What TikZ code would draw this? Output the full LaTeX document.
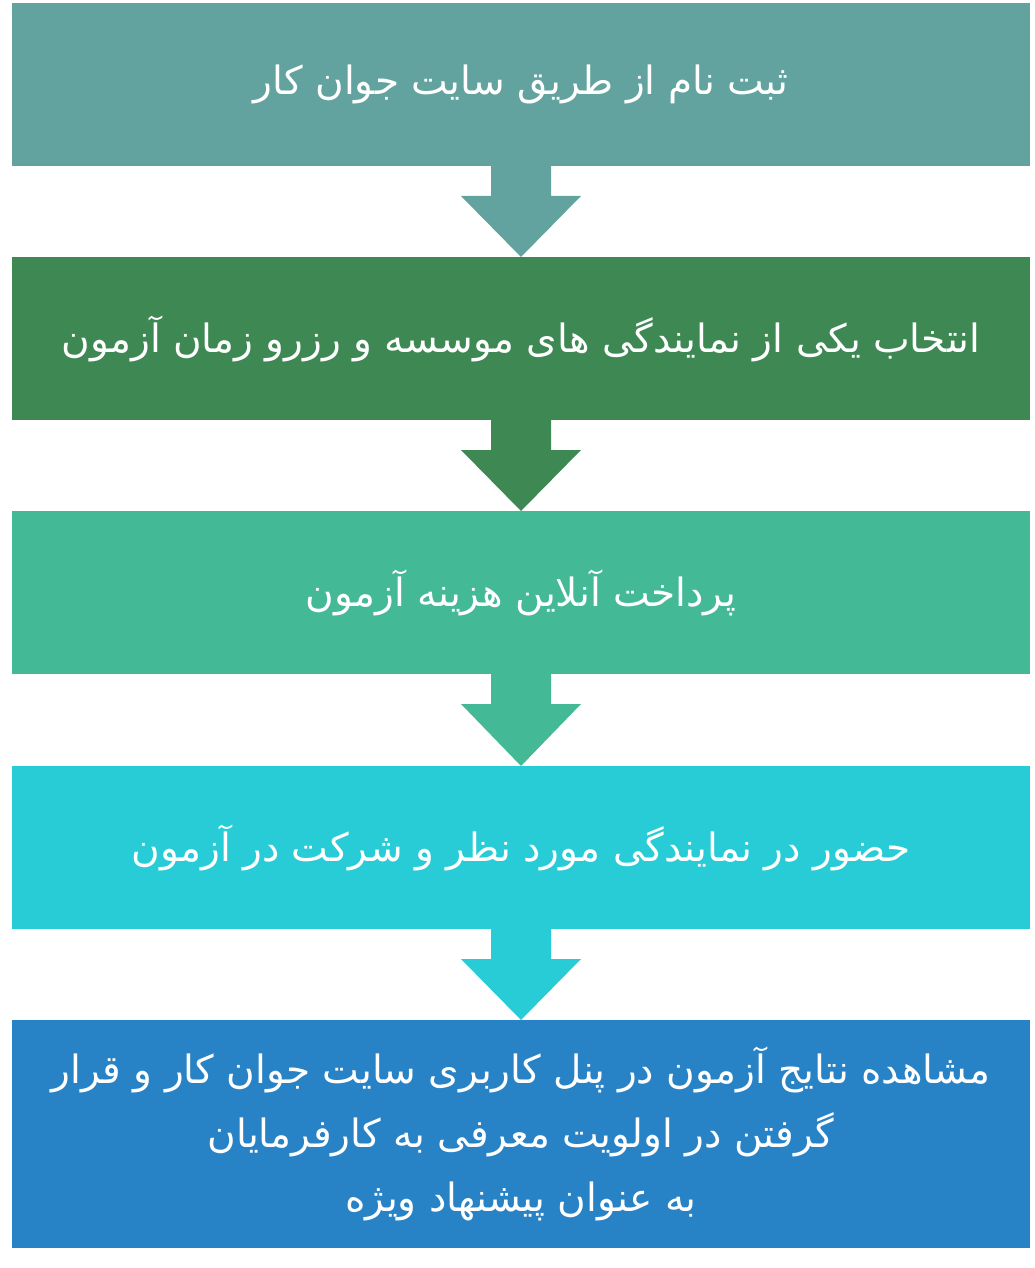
\documentclass[tikz,border=0pt]{standalone}
\usepackage{fontspec}
\TeXXeTstate=1
\newfontfamily\arabicfont[Script=Arabic]{DejaVu Sans}
\usetikzlibrary{calc}
\definecolor{cA}{HTML}{62A39F}
\definecolor{cB}{HTML}{3E8853}
\definecolor{cC}{HTML}{44B996}
\definecolor{cD}{HTML}{27CCD6}
\definecolor{cE}{HTML}{2882C6}
\tikzset{
  stepbox/.style={rectangle, inner sep=0pt, outer sep=0pt, minimum width=1018pt, text=white,
    font=\arabicfont\fontsize{39}{64}\selectfont, align=center},
}
\newcommand{\downarrowshape}[3]{%
  \fill[#1] ([xshift=-30pt]#2.south) -- ++(0,-30pt) -- ++(-30pt,0) -- (#3.north)
    -- ([xshift=60pt,yshift=-30pt]#2.south) -- ([xshift=30pt,yshift=-30pt]#2.south)
    -- ([xshift=30pt]#2.south) -- cycle;}
\begin{document}
\begin{tikzpicture}[x=1pt,y=-1pt]
\useasboundingbox (0,0) rectangle (1034,1268);
\node[stepbox, fill=cA, minimum height=163pt] (b1) at (521,84.5) {\beginR ثبت نام از طریق سایت جوان کار\endR};
\node[stepbox, fill=cB, minimum height=163pt] (b2) at (521,338.5) {\beginR انتخاب یکی از نمایندگی های موسسه و رزرو زمان آزمون\endR};
\node[stepbox, fill=cC, minimum height=163pt] (b3) at (521,592.5) {\beginR پرداخت آنلاین هزینه آزمون\endR};
\node[stepbox, fill=cD, minimum height=163pt] (b4) at (521,847.5) {\beginR حضور در نمایندگی مورد نظر و شرکت در آزمون\endR};
\node[stepbox, fill=cE, minimum height=228pt] (b5) at (521,1134) {\beginR مشاهده نتایج آزمون در پنل کاربری سایت جوان کار و قرار\endR\\\beginR گرفتن در اولویت معرفی به کارفرمایان\endR\\\beginR به عنوان پیشنهاد ویژه\endR};
\downarrowshape{cA}{b1}{b2}
\downarrowshape{cB}{b2}{b3}
\downarrowshape{cC}{b3}{b4}
\downarrowshape{cD}{b4}{b5}
\end{tikzpicture}
\end{document}
